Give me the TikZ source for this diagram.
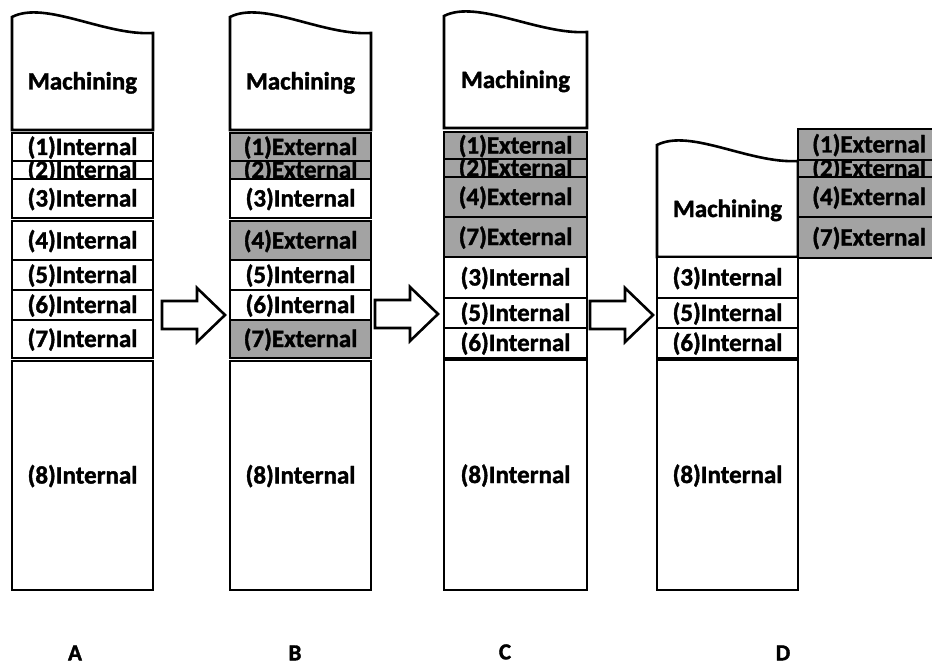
\documentclass[tikz,border=0pt]{standalone}
\usepackage{fontspec}
\setmainfont{Carlito}[BoldFeatures={FakeBold=1.5}]
\usetikzlibrary{calc}
\definecolor{extgray}{RGB}{163,163,163}
\tikzset{
  cell/.style={draw=black, line width=2.6pt},
  celltext/.style={font=\fontsize{25}{25}\selectfont\bfseries, inner sep=0pt,
    text height=20.5pt, text depth=4.5pt},
  tagtext/.style={font=\fontsize{23}{23}\selectfont\bfseries, inner sep=0pt,
    text height=18.9pt, text depth=4.1pt},
  blockarrow/.style={draw=black, fill=white, line width=2.6pt, line join=miter},
}
% one layer of the stack: name, x1, x2, y-top, y-bottom, fill, label
\newcommand\stackcell[7]{%
  \begin{scope}
    \clip (#2,#4) rectangle (#3,#5);
    \fill[#6] (#2,#4) rectangle (#3,#5);
    \node[celltext] (#1) at ({(#2+#3)/2},{(#4+#5)/2}) {#7};
  \end{scope}
  \draw[cell] (#2,#4) rectangle (#3,#5);
}
% machining block with a wavy top edge: name, x1, x2, y-top-left, y-bottom
\newcommand\machblock[5]{%
  \draw[cell, fill=white] (#2,#5) -- (#2,#4)
    .. controls ({#2+33},{#4-17}) and ({#3-48},{#4+19}) .. (#3,{#4+16})
    -- (#3,#5) -- cycle;
  \node[celltext] (#1) at ({(#2+#3)/2},{(#4+16+#5)/2}) {Machining};
}
% hollow block arrow from one named point to another
\newcommand\blockarrow[2]{%
  \draw[blockarrow] let \p1=(#1), \p2=(#2), \n1={\x2-28pt} in
    (\x1,\y1-14pt) -- (\n1,\y1-14pt) -- (\n1,\y1-27pt) -- (\x2,\y2)
    -- (\n1,\y1+27pt) -- (\n1,\y1+14pt) -- (\x1,\y1+14pt) -- cycle;
}
\begin{document}
\begin{tikzpicture}[x=1pt, y=-1pt]
\useasboundingbox (0,0) rectangle (932,666);

% ---- stage A ----
\machblock{machA}{12}{153}{17}{130}
\stackcell{a1}{12}{153}{133}{161}{white}{(1)Internal}
\stackcell{a2}{12}{153}{161}{179}{white}{(2)Internal}
\stackcell{a3}{12}{153}{179}{218}{white}{(3)Internal}
\stackcell{a4}{12}{153}{221}{260}{white}{(4)Internal}
\stackcell{a5}{12}{153}{260}{290}{white}{(5)Internal}
\stackcell{a6}{12}{153}{290}{320}{white}{(6)Internal}
\stackcell{a7}{12}{153}{320}{358}{white}{(7)Internal}
\stackcell{a8}{12}{153}{361}{590}{white}{(8)Internal}

% ---- stage B ----
\machblock{machB}{230}{371}{17}{130}
\stackcell{b1}{230}{371}{133}{161}{extgray}{(1)External}
\stackcell{b2}{230}{371}{161}{179}{extgray}{(2)External}
\stackcell{b3}{230}{371}{179}{218}{white}{(3)Internal}
\stackcell{b4}{230}{371}{221}{260}{extgray}{(4)External}
\stackcell{b5}{230}{371}{260}{290}{white}{(5)Internal}
\stackcell{b6}{230}{371}{290}{320}{white}{(6)Internal}
\stackcell{b7}{230}{371}{320}{358}{extgray}{(7)External}
\stackcell{b8}{230}{371}{361}{590}{white}{(8)Internal}

% ---- stage C ----
\machblock{machC}{444}{587}{16}{128}
\stackcell{c1}{444}{587}{132}{159}{extgray}{(1)External}
\stackcell{c2}{444}{587}{159}{177}{extgray}{(2)External}
\stackcell{c4}{444}{587}{177}{217}{extgray}{(4)External}
\stackcell{c7}{444}{587}{217}{257}{extgray}{(7)External}
\stackcell{c3}{444}{587}{257}{298}{white}{(3)Internal}
\stackcell{c5}{444}{587}{298}{328}{white}{(5)Internal}
\stackcell{c6}{444}{587}{328}{358}{white}{(6)Internal}
\stackcell{c8}{444}{587}{360}{590}{white}{(8)Internal}

% ---- stage D ----
\machblock{machD}{657}{798}{145}{257}
\stackcell{d3}{657}{798}{257}{298}{white}{(3)Internal}
\stackcell{d5}{657}{798}{298}{328}{white}{(5)Internal}
\stackcell{d6}{657}{798}{328}{358}{white}{(6)Internal}
\stackcell{d8}{657}{798}{360}{590}{white}{(8)Internal}
\stackcell{e1}{798}{940}{129}{160}{extgray}{(1)External}
\stackcell{e2}{798}{940}{160}{177}{extgray}{(2)External}
\stackcell{e4}{798}{940}{177}{217}{extgray}{(4)External}
\stackcell{e7}{798}{940}{217}{258}{extgray}{(7)External}

% ---- transition arrows ----
\coordinate (abS) at (162,315); \coordinate (abE) at (225,315);
\coordinate (bcS) at (375,314); \coordinate (bcE) at (438,314);
\coordinate (cdS) at (590,315); \coordinate (cdE) at (653,315);
\blockarrow{abS}{abE}
\blockarrow{bcS}{bcE}
\blockarrow{cdS}{cdE}

% ---- stage tags ----
\node[tagtext] (tagA) at (75,653) {A};
\node[tagtext] (tagB) at (295,653) {B};
\node[tagtext] (tagC) at (505,652) {C};
\node[tagtext] (tagD) at (783,653) {D};
\end{tikzpicture}
\end{document}
